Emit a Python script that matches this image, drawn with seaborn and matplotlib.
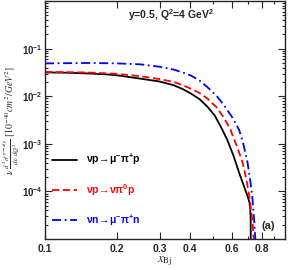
import matplotlib
matplotlib.use("Agg")
import matplotlib.pyplot as plt
import matplotlib.ticker as mticker
import numpy as np
import pandas as pd
import seaborn as sns

# values
x_black = [0.10, 0.12, 0.15, 0.18, 0.20, 0.25, 0.30, 0.344, 0.375, 0.404,
           0.44, 0.475, 0.51, 0.54, 0.575, 0.61, 0.644, 0.67, 0.698, 0.71,
           0.716, 0.719, 0.7205]
y_black = [0.0316, 0.0313, 0.0302, 0.0288, 0.0275, 0.0234, 0.0204, 0.0170,
           0.0141, 0.0115, 0.00871, 0.00603, 0.00389, 0.00229, 0.00120,
           5.6e-4, 2.45e-4, 1.41e-4, 7.9e-5, 6.0e-5, 4.5e-5, 2.5e-5, 3.2e-6]

x_red = [0.10, 0.15, 0.20, 0.25, 0.30, 0.344, 0.375, 0.404, 0.44, 0.475,
         0.52, 0.557, 0.594, 0.60, 0.63, 0.666, 0.69, 0.71, 0.733, 0.74, 0.743]
y_red = [0.0324, 0.0316, 0.0295, 0.0263, 0.0229, 0.0200, 0.0170, 0.0145,
         0.0117, 0.0089, 0.00575, 0.00347, 0.00195, 0.00166, 8.9e-4, 4.0e-4,
         1.78e-4, 7.9e-5, 2.2e-5, 1e-5, 3.2e-6]

x_blue = [0.10, 0.15, 0.20, 0.25, 0.30, 0.344, 0.375, 0.404, 0.44, 0.475,
          0.52, 0.557, 0.60, 0.644, 0.67, 0.698, 0.715, 0.73, 0.745, 0.752, 0.755]
y_blue = [0.049, 0.050, 0.049, 0.0468, 0.0417, 0.0363, 0.0316, 0.0275,
          0.0214, 0.0155, 0.0100, 0.00646, 0.00372, 0.00195, 0.0010, 4.0e-4,
          1.78e-4, 7.9e-5, 2.2e-5, 1e-5, 3.2e-6]

labels = [r'$\mathrm{\nu}\mathbf{p}\!\rightarrow\!\mathrm{\mu^{-}\pi^{+}}\mathbf{p}$',
          r'$\mathrm{\nu}\mathbf{p}\!\rightarrow\!\mathrm{\nu\pi^{0}}\mathbf{p}$',
          r'$\mathrm{\nu}\mathbf{n}\!\rightarrow\!\mathrm{\mu^{-}\pi^{+}}\mathbf{n}$']
colors = ['black', 'red', 'blue']

xtick_vals = [0.1, 0.2, 0.3, 0.4, 0.6, 0.8]
xtick_labels = ['0.1', '0.2', '0.3', '0.4', '0.6', '0.8']
ytick_vals = [1e-4, 1e-3, 1e-2, 1e-1]
ytick_labels = [r'$10^{-4}$', r'$10^{-3}$', r'$10^{-2}$', r'$10^{-1}$']

sns.set_style("ticks")
plt.rcParams['font.family'] = ['Liberation Sans', 'DejaVu Sans']
plt.rcParams['mathtext.fontset'] = 'custom'
plt.rcParams['mathtext.rm'] = 'Liberation Sans:bold'
plt.rcParams['mathtext.bf'] = 'Liberation Sans:bold'
plt.rcParams['mathtext.it'] = 'Liberation Sans:italic:bold'

df = pd.concat([
    pd.DataFrame({'x': x_black, 'y': y_black, 'proc': labels[0]}),
    pd.DataFrame({'x': x_red, 'y': y_red, 'proc': labels[1]}),
    pd.DataFrame({'x': x_blue, 'y': y_blue, 'proc': labels[2]}),
])

fig = plt.figure(figsize=(2.96, 2.70), dpi=100)
ax = fig.add_axes([0.152, 0.115, 0.811, 0.881])

sns.lineplot(data=df, x='x', y='y', hue='proc', style='proc',
             palette=colors, dashes=[(None, None), (4, 2), (5, 2, 1, 2)],
             linewidth=1.3, ax=ax, sort=False, estimator=None)
for ln in ax.get_lines():
    ln.set_solid_joinstyle('round')
    ln.set_dash_joinstyle('round')

ax.set_xscale('log')
ax.set_yscale('log')
ax.set_xlim(0.1, 1.0)
ax.set_ylim(1e-5, 1.0)

ax.set_xticks(xtick_vals)
ax.set_xticklabels(xtick_labels, fontsize=7.5, fontweight='bold')
ax.xaxis.set_minor_locator(mticker.FixedLocator([0.5, 0.7, 0.9]))
ax.xaxis.set_minor_formatter(mticker.NullFormatter())

ax.set_yticks(ytick_vals)
ax.set_yticklabels(ytick_labels, fontsize=7)
ax.yaxis.set_minor_locator(mticker.LogLocator(base=10, subs=np.arange(2, 10)))
ax.yaxis.set_minor_formatter(mticker.NullFormatter())

ax.tick_params(which='both', direction='in', top=True, right=True, width=0.8)
ax.tick_params(which='major', length=5)
ax.tick_params(axis='y', which='major', pad=2)
ax.tick_params(which='minor', length=2.5)
for s in ax.spines.values():
    s.set_linewidth(1.0)

ax.set_xlabel(r'$x_{\mathrm{Bj}}$', fontsize=9, math_fontfamily='stix', labelpad=0)
ax.set_ylabel(r'$\nu\ \frac{d^2\sigma^{\nu p\rightarrow \pi l p}}{d\nu\ dQ^2}\ [10^{-40}cm^2/GeV^2]$',
              fontsize=7, math_fontfamily='stix')
ax.yaxis.set_label_coords(-0.094, 0.5)

ax.text(0.525, 0.94, r'y=0.5, Q$^2$=4 GeV$^2$', transform=ax.transAxes,
        ha='center', va='center', fontsize=7.5, fontweight='bold')
ax.text(0.93, 0.055, '(a)', transform=ax.transAxes, ha='center', va='center',
        fontsize=8, fontweight='bold')

leg = ax.legend(loc='upper left', bbox_to_anchor=(0.03, 0.365), frameon=False,
                fontsize=7.5, handlelength=2.4, handletextpad=0.8,
                labelspacing=1.4, borderpad=0, borderaxespad=0,
                labelcolor='linecolor')

fig.savefig('out.png', dpi=100)
